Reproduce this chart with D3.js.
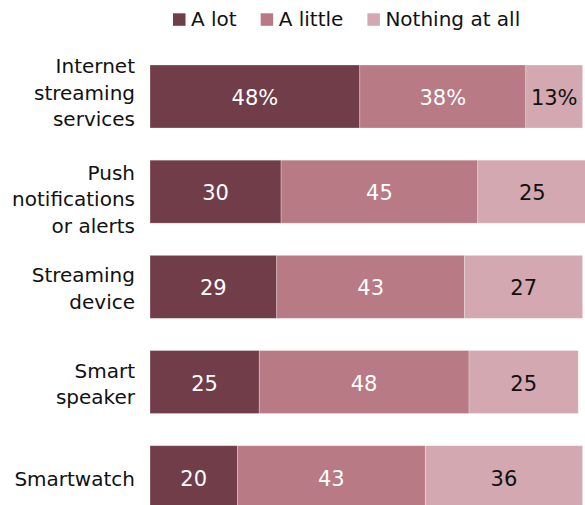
<!DOCTYPE html>
<html>
<head>
<meta charset="utf-8">
<script src="https://cdn.jsdelivr.net/npm/d3@7"></script>
<style>
  html, body { margin: 0; padding: 0; background: #fff; }
  svg { display: block; }
  text { font-family: "DejaVu Sans", sans-serif; }
</style>
</head>
<body>
<svg id="chart" width="585" height="505"></svg>
<script>
// Stacked shares per device/service
const categories = [
  ["Internet", "streaming", "services"],
  ["Push", "notifications", "or alerts"],
  ["Streaming", "device"],
  ["Smart", "speaker"],
  ["Smartwatch"]
];
const seriesNames = ["A lot", "A little", "Nothing at all"];
const aLot       = [48, 30, 29, 25, 20];
const aLittle    = [38, 45, 43, 48, 43];
const nothingAll = [13, 25, 27, 25, 36];

const colors = ["#713d48", "#b87a84", "#d3a8b0"];
const labelColors = ["#ffffff", "#ffffff", "#111111"];
// small per-row vertical adjustment of the category labels
const labelNudge = [-6, 5.5, 0, 0, 0];

const svg = d3.select("#chart");
const rows = categories.map((c, i) => ({
  key: i, lines: c, values: [aLot[i], aLittle[i], nothingAll[i]]
}));

const x = d3.scaleLinear().domain([0, 100]).range([150, 587]);
const y = d3.scaleBand()
  .domain(rows.map(r => r.key))
  .range([65, 508.7])
  .paddingInner(0.338)
  .paddingOuter(0);

// Bars
const g = svg.append("g");
rows.forEach((r, i) => {
  let acc = 0;
  r.values.forEach((v, s) => {
    const x0 = x(acc), x1 = x(acc + v);
    g.append("rect")
      .attr("x", x0)
      .attr("y", y(r.key))
      .attr("width", x1 - x0)
      .attr("height", y.bandwidth())
      .attr("fill", colors[s])
      .attr("stroke", "#ffffff")
      .attr("stroke-opacity", 0.35)
      .attr("stroke-width", 0.8);
    g.append("text")
      .attr("x", (x0 + x1) / 2)
      .attr("y", y(r.key) + y.bandwidth() / 2 + 8.5)
      .attr("text-anchor", "middle")
      .attr("font-size", 21)
      .attr("fill", labelColors[s])
      .text(v + (i === 0 ? "%" : ""));
    acc += v;
  });
});

// Category labels
const lineH = 26.5;
rows.forEach((r, i) => {
  const c = y(r.key) + y.bandwidth() / 2;
  const first = c + 8.5 - (r.lines.length - 1) * 13 + labelNudge[i];
  const t = svg.append("text")
    .attr("text-anchor", "end")
    .attr("font-size", 20)
    .attr("fill", "#111");
  r.lines.forEach((ln, k) => {
    t.append("tspan").attr("x", 135).attr("y", first + k * lineH).text(ln);
  });
});

// Legend
const legend = svg.append("g");
let lx = 173;
seriesNames.forEach((name, s) => {
  legend.append("rect")
    .attr("x", lx).attr("y", 13.3)
    .attr("width", 12.5).attr("height", 12.5)
    .attr("fill", colors[s]);
  const t = legend.append("text")
    .attr("x", lx + 18).attr("y", 26)
    .attr("font-size", 20)
    .attr("fill", "#111")
    .text(name);
  lx += 18 + t.node().getComputedTextLength() + 24;
});
</script>
</body>
</html>
